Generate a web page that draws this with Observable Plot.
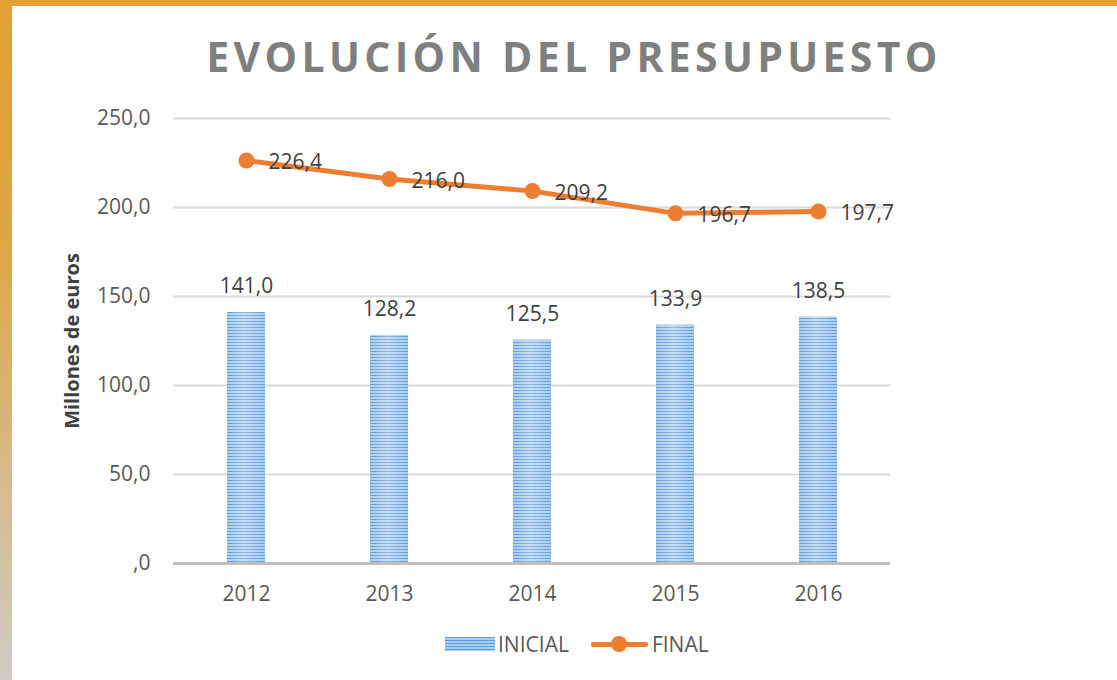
<!DOCTYPE html>
<html><head><meta charset="utf-8">
<script src="https://cdn.jsdelivr.net/npm/d3@7"></script>
<script src="https://cdn.jsdelivr.net/npm/@observablehq/plot@0.6"></script>
<style>
body{margin:0;background:#fff;font-family:"Open Sans",sans-serif;}
#wrap{position:relative;width:1117px;height:680px;overflow:hidden;background:#fff;}
#topbar{position:absolute;left:0;top:0;width:1117px;height:6px;background:#E1A133;}
#leftbar{position:absolute;left:0;top:0;width:12px;height:680px;background:linear-gradient(#E1A133 0%, #DEA643 35%, #D8BA8A 70%, #CDCCC4 100%);}
#title{position:absolute;top:26px;left:0;width:1148px;text-align:center;font-size:41px;font-weight:700;letter-spacing:4.3px;color:#7F7F7F;line-height:60px;}
#chart{position:absolute;left:0;top:90px;}
#legend{position:absolute;top:630px;left:445px;display:flex;align-items:center;font-size:21px;color:#595959;}
.sw-bar{width:50px;height:14px;background:repeating-linear-gradient(#5E9DDA 0 1px,#AECDEE 1px 3px);margin-right:3px;}
.sw-line{position:relative;width:57px;height:16px;margin-left:22px;margin-right:4px;}
.sw-line:before{content:"";position:absolute;left:0;right:0;top:6px;height:5px;background:#ED7D31;border-radius:2px;}
.sw-line:after{content:"";position:absolute;left:20px;top:0;width:16px;height:16px;border-radius:50%;background:#ED7D31;}
</style></head>
<body>
<div id="wrap">
  <div id="topbar"></div>
  <div id="leftbar"></div>
  <div id="title">EVOLUCIÓN DEL PRESUPUESTO</div>
  <div id="chart"></div>
  <div id="legend"><div class="sw-bar"></div><span>INICIAL</span><div class="sw-line"></div><span>FINAL</span></div>
</div>
<script>
const years = ["2012", "2013", "2014", "2015", "2016"];
const inicial = [141.0, 128.2, 125.5, 133.9, 138.5];
const final = [226.4, 216.0, 209.2, 196.7, 197.7];
const yTicks = [0, 50, 100, 150, 200, 250];
const yLabel = "Millones de euros";

const data = years.map((y, i) => ({year: y, inicial: inicial[i], final: final[i]}));
const fmt = d => d === 0 ? ",0" : d.toFixed(1).replace(".", ",");

const chart = Plot.plot({
  width: 1117,
  height: 530,
  marginTop: 28,
  marginBottom: 57,
  marginLeft: 173,
  marginRight: 227,
  style: {fontFamily: "'Open Sans', sans-serif", background: "transparent"},
  x: {domain: years, paddingInner: 0.735, paddingOuter: 0.3675, axis: null},
  y: {domain: [0, 250], axis: null},
  marks: [
    Plot.ruleY(yTicks.filter(d => d > 0), {stroke: "#D9D9D9", strokeWidth: 2}),
    Plot.barY(data, {x: "year", y: "inicial", fill: "url(#stripes)"}),
    Plot.barY(data, {x: "year", y: "inicial", fill: "url(#sheen)"}),
    Plot.ruleY([0], {stroke: "#BFBFBF", strokeWidth: 3}),
    Plot.axisX({tickSize: 0, tickPadding: 23, fontSize: 21, color: "#595959", label: null}),
    Plot.axisY({ticks: yTicks, tickFormat: fmt, tickSize: 0, tickPadding: 23, fontSize: 21, color: "#595959", label: null}),
    Plot.text([yLabel], {frameAnchor: "left", textAnchor: "middle", dx: -101, rotate: -90, fontSize: 20, fontWeight: "bold", fill: "#404040"}),
    Plot.text(data, {x: "year", y: "inicial", text: d => fmt(d.inicial), dy: -26, fontSize: 21, fill: "#404040"}),
    Plot.line(data, {x: "year", y: "final", stroke: "#ED7D31", strokeWidth: 5}),
    Plot.dot(data, {x: "year", y: "final", r: 8, fill: "#ED7D31"}),
    Plot.text(data, {x: "year", y: "final", text: d => fmt(d.final), textAnchor: "start", dx: 22, dy: 2, fontSize: 21, fill: "#404040"})
  ]
});
d3.select(chart).insert("defs", ":first-child").html(
  '<pattern id="stripes" patternUnits="userSpaceOnUse" width="8" height="3">' +
  '<rect width="8" height="3" fill="#AECDEE"/><rect width="8" height="1" fill="#5E9DDA"/></pattern>' +
  '<linearGradient id="sheen" x1="0" x2="1" y1="0" y2="0">' +
  '<stop offset="0" stop-color="#ffffff" stop-opacity="0"/>' +
  '<stop offset="0.45" stop-color="#ffffff" stop-opacity="0.3"/>' +
  '<stop offset="1" stop-color="#ffffff" stop-opacity="0"/></linearGradient>'
);
document.getElementById("chart").appendChild(chart);
</script>
</body></html>
